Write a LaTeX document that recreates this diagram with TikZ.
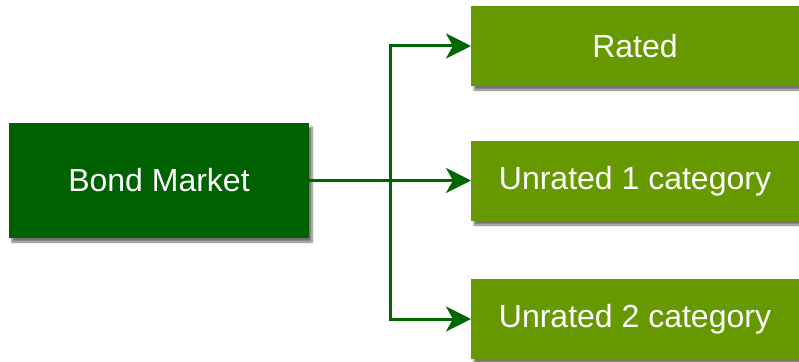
\documentclass[tikz,border=0pt]{standalone}
\usepackage{fontspec}
\setmainfont{Liberation Sans}
\usetikzlibrary{arrows.meta,positioning,shadows.blur}
\definecolor{bonddark}{HTML}{006100}
\definecolor{leafgreen}{HTML}{669900}
\definecolor{linkgreen}{HTML}{006600}

\tikzset{
  box/.style={inner sep=0pt,outer sep=0pt,anchor=north west,align=center,
              text=white,font=\fontsize{32}{36}\selectfont,
              blur shadow={shadow xshift=3pt,shadow yshift=-4pt,
                           shadow blur steps=6,shadow opacity=55}},
  rootbox/.style={box,fill=bonddark,minimum width=300pt,minimum height=115pt},
  leafbox/.style={box,fill=leafgreen,minimum width=328pt,minimum height=80pt},
  link/.style={draw=linkgreen,line width=3pt,
               -{Stealth[length=25pt,width=25pt,inset=7pt]}}
}

\begin{document}
\begin{tikzpicture}[x=1pt,y=1pt]
  \useasboundingbox (0,0) rectangle (799,-361);
  % the market and its three classes
  \node[rootbox] (bond)  at (9,-123)  {Bond Market};
  \node[leafbox] (rated) at (471,-6)  {Rated};
  \node[leafbox] (unr1)  at (471,-141) {Unrated 1 category};
  \node[leafbox] (unr2)  at (471,-279) {Unrated 2 category};
  \coordinate (spine) at (390,-181);

  % connectors
  \draw[link] (bond.east) -- (unr1.west |- bond.east);
  \draw[link] (spine) |- (rated.west);
  \draw[link] (spine) |- (unr2.west);
\end{tikzpicture}
\end{document}
